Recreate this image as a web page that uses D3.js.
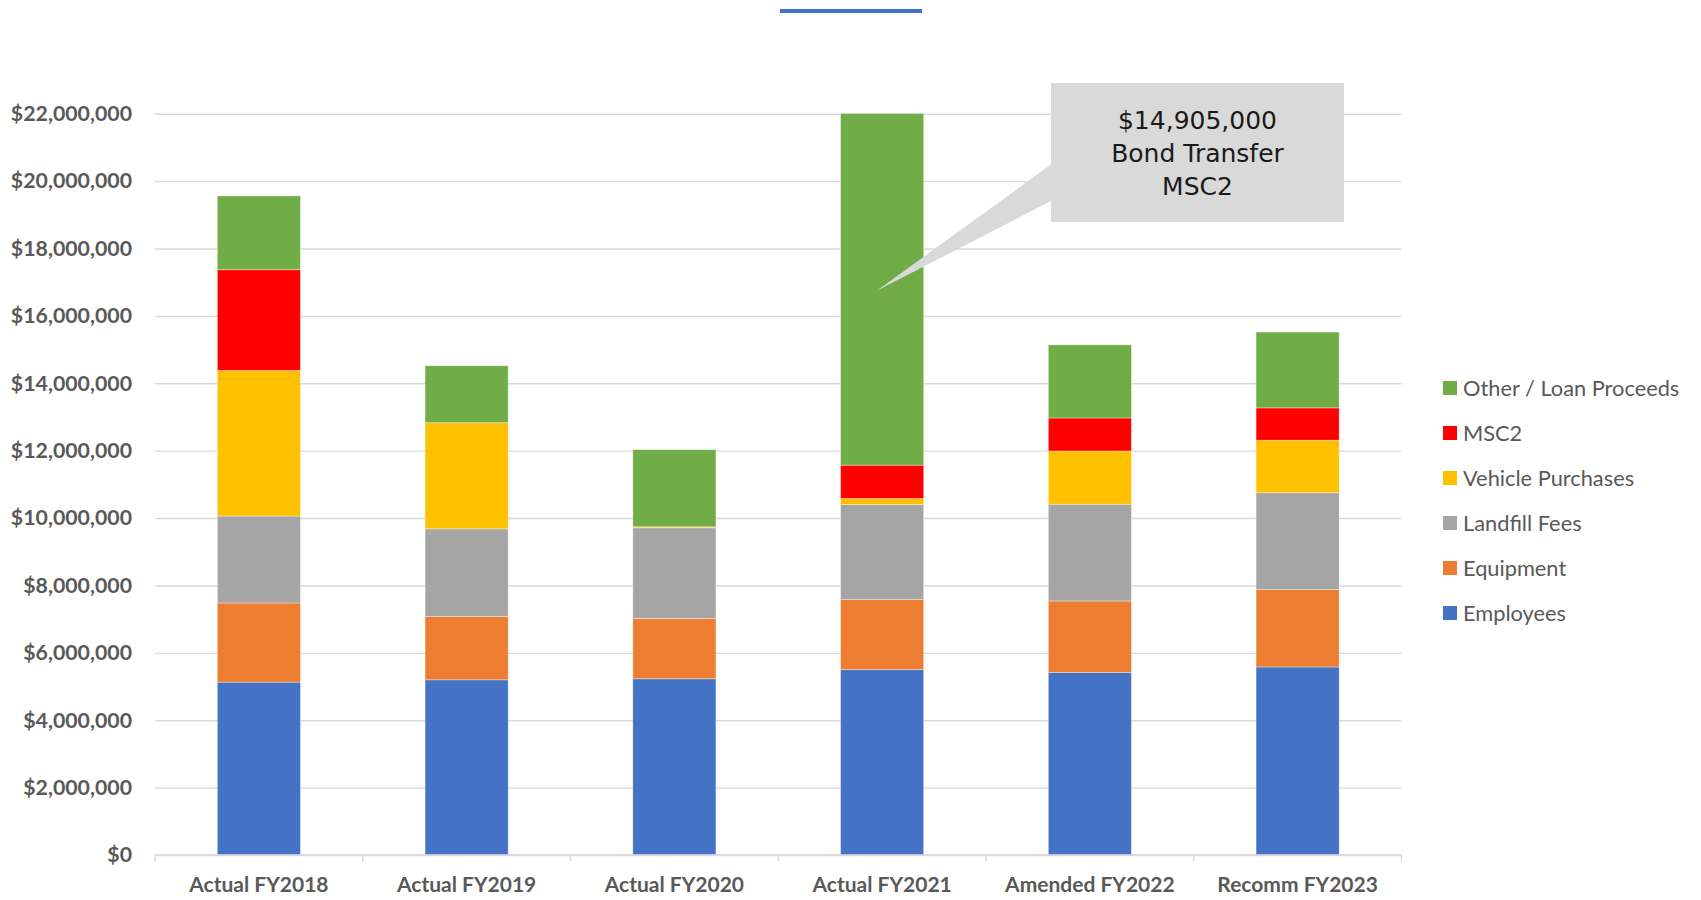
<!DOCTYPE html>
<html>
<head>
<meta charset="utf-8">
<script src="https://cdn.jsdelivr.net/npm/d3@7"></script>
<style>
  html, body { margin: 0; padding: 0; background: #ffffff; }
  svg { display: block; }
</style>
</head>
<body>
<svg id="chart" width="1701" height="900"></svg>
<script>
// Fiscal years shown along the x axis
const categories = ["Actual FY2018", "Actual FY2019", "Actual FY2020", "Actual FY2021", "Amended FY2022", "Recomm FY2023"];

// Stack order, bottom to top
const seriesNames = ["Employees", "Equipment", "Landfill Fees", "Vehicle Purchases", "MSC2", "Other / Loan Proceeds"];

// Amounts in dollars, one entry per fiscal year
const employees        = [5130000, 5200000, 5230000, 5500000, 5420000, 5580000];
const equipment        = [2350000, 1880000, 1790000, 2080000, 2120000, 2300000];
const landfillFees     = [2580000, 2600000, 2690000, 2820000, 2870000, 2870000];
const vehiclePurchases = [4320000, 3150000,   30000,  180000, 1580000, 1560000];
const msc2             = [2990000,       0,       0,  990000,  980000,  960000];
const otherLoan        = [2190000, 1690000, 2290000, 14905000, 2170000, 2250000];

const yTicks = [0, 2e6, 4e6, 6e6, 8e6, 10e6, 12e6, 14e6, 16e6, 18e6, 20e6, 22e6];
const yMax = 22000000;

const colors = {
  "Employees": "#4472c4",
  "Equipment": "#ed7d31",
  "Landfill Fees": "#a5a5a5",
  "Vehicle Purchases": "#ffc000",
  "MSC2": "#ff0000",
  "Other / Loan Proceeds": "#70ad47"
};

const seriesValues = {
  "Employees": employees,
  "Equipment": equipment,
  "Landfill Fees": landfillFees,
  "Vehicle Purchases": vehiclePurchases,
  "MSC2": msc2,
  "Other / Loan Proceeds": otherLoan
};

const rows = categories.map((c, i) => {
  const r = { category: c };
  seriesNames.forEach(s => { r[s] = seriesValues[s][i]; });
  return r;
});

const svg = d3.select("#chart");
const plot = { left: 155, right: 1401.5, top: 113.7, bottom: 855 };

const xCat = d3.scaleBand().domain(categories).range([plot.left, plot.right]).padding(0);
const xBar = d3.scaleBand().domain(categories).range([plot.left, plot.right])
  .paddingInner(0.6).paddingOuter(0.3);
const y = d3.scaleLinear().domain([0, yMax]).range([plot.bottom, plot.top]);

const labelFont = "Lato, 'Open Sans', 'Liberation Sans', sans-serif";
const textGrey = "#595959";
const gridGrey = "#d9d9d9";

// Title accent bar
svg.append("rect")
  .attr("x", 780).attr("y", 9).attr("width", 142).attr("height", 4)
  .attr("fill", "#4472c4");

// Horizontal gridlines and y-axis labels
const yAxis = d3.axisLeft(y)
  .tickValues(yTicks)
  .tickSize(-(plot.right - plot.left))
  .tickPadding(23)
  .tickFormat(v => "$" + d3.format(",")(v));

const yG = svg.append("g")
  .attr("transform", `translate(${plot.left},0)`)
  .call(yAxis);
yG.select(".domain").remove();
yG.selectAll(".tick line").attr("stroke", gridGrey).attr("stroke-width", 1.4);
yG.selectAll(".tick text")
  .attr("fill", textGrey)
  .style("font-family", labelFont)
  .style("font-weight", "700")
  .style("font-size", "21.3px");

// Stacked bars, clipped to the plot area
svg.append("defs").append("clipPath").attr("id", "plotClip")
  .append("rect")
  .attr("x", plot.left).attr("y", plot.top)
  .attr("width", plot.right - plot.left).attr("height", plot.bottom - plot.top);

const stacked = d3.stack().keys(seriesNames)(rows);

const barsG = svg.append("g").attr("clip-path", "url(#plotClip)");
barsG.selectAll("g.series")
  .data(stacked)
  .join("g")
  .attr("class", "series")
  .attr("fill", d => colors[d.key])
  .selectAll("rect")
  .data(d => d.filter(p => p[1] - p[0] > 0))
  .join("rect")
  .attr("x", d => xBar(d.data.category))
  .attr("width", xBar.bandwidth())
  .attr("y", d => y(d[1]))
  .attr("height", d => y(d[0]) - y(d[1]))
  .attr("stroke", "#ffffff")
  .attr("stroke-opacity", 0.45)
  .attr("stroke-width", 0.8);

// X axis line with tick marks between categories
const xG = svg.append("g");
xG.append("line")
  .attr("x1", plot.left).attr("x2", plot.right)
  .attr("y1", y(0)).attr("y2", y(0))
  .attr("stroke", gridGrey).attr("stroke-width", 1.4);

const boundaries = categories.map(c => xCat(c)).concat([plot.right]);
xG.selectAll("line.tick")
  .data(boundaries)
  .join("line")
  .attr("class", "tick")
  .attr("x1", d => d).attr("x2", d => d)
  .attr("y1", y(0)).attr("y2", y(0) + 7)
  .attr("stroke", gridGrey).attr("stroke-width", 1.4);

xG.selectAll("text")
  .data(categories)
  .join("text")
  .attr("x", d => xCat(d) + xCat.bandwidth() / 2)
  .attr("y", 892)
  .attr("text-anchor", "middle")
  .attr("fill", textGrey)
  .style("font-family", labelFont)
  .style("font-weight", "700")
  .style("font-size", "21px")
  .text(d => d);

// Legend, top entry is the top of the stack
const legendOrder = seriesNames.slice().reverse();
const legend = svg.append("g").attr("transform", "translate(1443,381)");
const legendItems = legend.selectAll("g")
  .data(legendOrder)
  .join("g")
  .attr("transform", (d, i) => `translate(0,${i * 45})`);
legendItems.append("rect")
  .attr("width", 14).attr("height", 14)
  .attr("fill", d => colors[d]);
legendItems.append("text")
  .attr("x", 20).attr("y", 7)
  .attr("dy", "0.35em")
  .attr("fill", textGrey)
  .style("font-family", labelFont)
  .style("font-size", "21.8px")
  .text(d => d);

// Callout for the FY2021 bond transfer
const bondIdx = categories.indexOf("Actual FY2021");
const calloutBox = { x: 1051, y: 83, w: 293, h: 139 };
const tip = [xBar(categories[bondIdx]) + xBar.bandwidth() / 2 - 5, y(16750000)];
const callout = svg.append("g");
callout.append("path")
  .attr("d", `M${tip[0]},${tip[1]} L${calloutBox.x + 2},${calloutBox.y + 80} L${calloutBox.x + 2},${calloutBox.y + 117} Z`)
  .attr("fill", "#d9d9d9");
callout.append("rect")
  .attr("x", calloutBox.x).attr("y", calloutBox.y)
  .attr("width", calloutBox.w).attr("height", calloutBox.h)
  .attr("fill", "#d9d9d9");
const calloutLines = ["$" + d3.format(",")(otherLoan[bondIdx]), "Bond Transfer", "MSC2"];
callout.selectAll("text")
  .data(calloutLines)
  .join("text")
  .attr("x", calloutBox.x + calloutBox.w / 2)
  .attr("y", (d, i) => 120.5 + i * 32.8)
  .attr("dy", "0.35em")
  .attr("text-anchor", "middle")
  .attr("fill", "#1a1a1a")
  .style("font-family", "'DejaVu Sans', sans-serif")
  .style("font-size", "25px")
  .text(d => d);
</script>
</body>
</html>
